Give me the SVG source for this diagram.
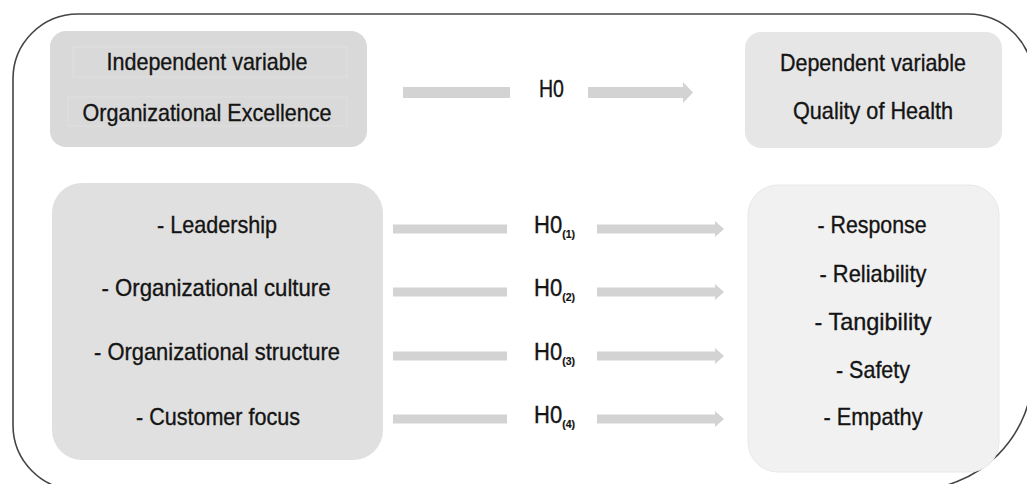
<svg xmlns="http://www.w3.org/2000/svg" width="1027" height="484" viewBox="0 0 1027 484">
<style>
  .t{font-family:"Liberation Sans",Arial,sans-serif;font-size:24px;fill:#141414;stroke:#141414;stroke-width:0.35;}
  .h{font-family:"Liberation Sans",Arial,sans-serif;font-size:23px;fill:#141414;stroke:#141414;stroke-width:0.35;}
  .s{font-size:11px;font-weight:bold;stroke-width:0.2;}
  .bar{fill:#d3d3d3;}
</style>
<rect width="1027" height="484" fill="#ffffff"/>
<path d="M78,14 H968 A65,65 0 0 1 1033,79 V370 A120,120 0 0 1 913,490 H78 A65,65 0 0 1 13,425 V79 A65,65 0 0 1 78,14 Z" fill="none" stroke="#444444" stroke-width="1.6"/>

<g id="independent">
  <rect x="50" y="31" width="317" height="116" rx="16" fill="#d9d9d9"/>
  <rect x="73" y="47" width="274" height="30" fill="none" stroke="#dfdfdf" stroke-width="1"/>
  <rect x="68" y="97" width="279" height="29" fill="none" stroke="#dfdfdf" stroke-width="1"/>
  <text class="t" x="207" y="70" text-anchor="middle" textLength="201" lengthAdjust="spacingAndGlyphs">Independent variable</text>
  <text class="t" x="207" y="121" text-anchor="middle" textLength="249" lengthAdjust="spacingAndGlyphs">Organizational Excellence</text>
</g>

<g id="dependent">
  <rect x="745" y="32" width="257" height="116" rx="16" fill="#e6e6e6"/>
  <text class="t" x="873" y="71" text-anchor="middle" textLength="186" lengthAdjust="spacingAndGlyphs">Dependent variable</text>
  <text class="t" x="873" y="119" text-anchor="middle" textLength="160" lengthAdjust="spacingAndGlyphs">Quality of Health</text>
</g>

<g id="dimensions-independent">
  <rect x="52" y="183" width="331" height="277" rx="30" fill="#e0e0e0"/>
  <text class="t" x="217" y="233" text-anchor="middle" textLength="120" lengthAdjust="spacingAndGlyphs">- Leadership</text>
  <text class="t" x="216" y="296" text-anchor="middle" textLength="229" lengthAdjust="spacingAndGlyphs">- Organizational culture</text>
  <text class="t" x="217" y="360" text-anchor="middle" textLength="246" lengthAdjust="spacingAndGlyphs">- Organizational structure</text>
  <text class="t" x="218" y="425" text-anchor="middle" textLength="164" lengthAdjust="spacingAndGlyphs">- Customer focus</text>
</g>

<g id="dimensions-dependent">
  <rect x="748" y="185" width="251" height="287" rx="30" fill="#f1f1f1" stroke="#e8e8e8" stroke-width="1"/>
  <text class="t" x="872" y="233" text-anchor="middle" textLength="109" lengthAdjust="spacingAndGlyphs">- Response</text>
  <text class="t" x="873" y="282" text-anchor="middle" textLength="107" lengthAdjust="spacingAndGlyphs">- Reliability</text>
  <text class="t" x="873" y="330" text-anchor="middle" textLength="117" lengthAdjust="spacingAndGlyphs">- Tangibility</text>
  <text class="t" x="873" y="378" text-anchor="middle" textLength="74" lengthAdjust="spacingAndGlyphs">- Safety</text>
  <text class="t" x="873" y="425" text-anchor="middle" textLength="99" lengthAdjust="spacingAndGlyphs">- Empathy</text>
</g>

<g id="connectors">
  <g id="h0">
    <rect class="bar" x="403" y="87" width="107" height="11"/>
    <polygon class="bar" points="588,87 683,87 683,82 693,92.5 683,103 683,98 588,98"/>
    <text class="t" x="539" y="97" textLength="25" lengthAdjust="spacingAndGlyphs">H0</text>
  </g>
  <g id="h0-1">
    <rect class="bar" x="393" y="224.5" width="114" height="9"/>
    <polygon class="bar" points="597,224.5 715,224.5 715,221 724,229 715,237 715,233.5 597,233.5"/>
    <text class="h" x="534" y="233" textLength="41" lengthAdjust="spacingAndGlyphs">H0<tspan class="s" dy="5">(1)</tspan></text>
  </g>
  <g id="h0-2">
    <rect class="bar" x="393" y="287.5" width="114" height="9"/>
    <polygon class="bar" points="597,287.5 715,287.5 715,284 724,292 715,300 715,296.5 597,296.5"/>
    <text class="h" x="534" y="296" textLength="41" lengthAdjust="spacingAndGlyphs">H0<tspan class="s" dy="5">(2)</tspan></text>
  </g>
  <g id="h0-3">
    <rect class="bar" x="393" y="351.5" width="114" height="9"/>
    <polygon class="bar" points="597,351.5 715,351.5 715,348 724,356 715,364 715,360.5 597,360.5"/>
    <text class="h" x="534" y="360" textLength="41" lengthAdjust="spacingAndGlyphs">H0<tspan class="s" dy="5">(3)</tspan></text>
  </g>
  <g id="h0-4">
    <rect class="bar" x="393" y="414.5" width="114" height="9"/>
    <polygon class="bar" points="597,414.5 715,414.5 715,411 724,419 715,427 715,423.5 597,423.5"/>
    <text class="h" x="534" y="423" textLength="41" lengthAdjust="spacingAndGlyphs">H0<tspan class="s" dy="5">(4)</tspan></text>
  </g>
</g>
</svg>
